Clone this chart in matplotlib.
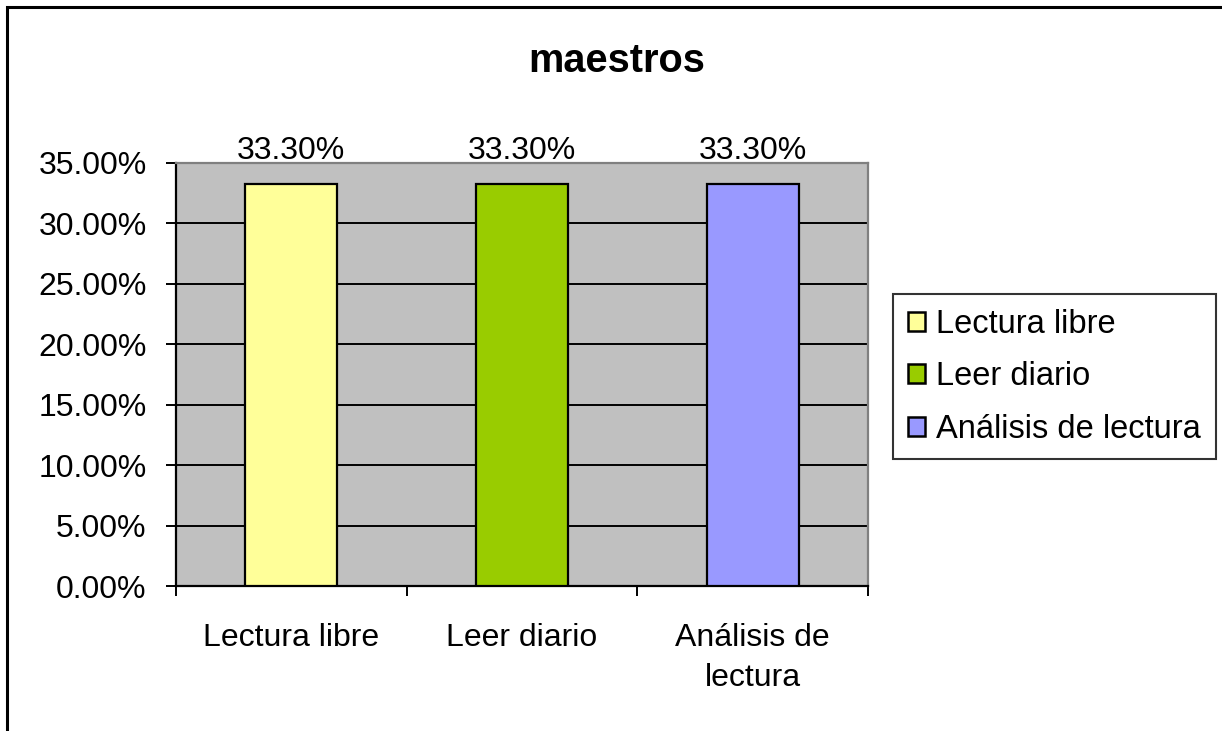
import matplotlib
matplotlib.use('Agg')
import matplotlib.pyplot as plt
from matplotlib.patches import Rectangle
from matplotlib.ticker import FuncFormatter

# data
categories = ['Lectura libre', 'Leer diario', 'Análisis de lectura']
tick_labels = ['Lectura libre', 'Leer diario', 'Análisis de\nlectura']
values = [0.333, 0.333, 0.333]
colors = ['#FFFF99', '#99CC00', '#9999FF']
y_ticks = [0.0, 0.05, 0.10, 0.15, 0.20, 0.25, 0.30, 0.35]

plt.rcParams['font.family'] = ['Liberation Sans', 'DejaVu Sans']
FS = 23.0
FS_LEG = 23.5

W, H = 1222, 731
fig = plt.figure(figsize=(W / 100, H / 100), dpi=100)
fig.patch.set_facecolor('white')

# plot area in pixel coords: x 176..868, y 163..586
ax = fig.add_axes([176 / W, (H - 586) / H, (868 - 176) / W, (586 - 163) / H])
ax.set_facecolor('#C0C0C0')
ax.set_axisbelow(True)

x = list(range(len(categories)))
for i, (cat, v, c) in enumerate(zip(categories, values, colors)):
    ax.bar(x[i], v, width=0.4, color=c, edgecolor='black', linewidth=1.6,
           label=cat, zorder=3)
    ax.annotate('%.2f%%' % (v * 100), (x[i], v), xytext=(0, 17.6),
                textcoords='offset points', ha='center', va='baseline',
                fontsize=FS, zorder=4, annotation_clip=False)

ax.set_xlim(-0.5, len(categories) - 0.5)
ax.set_ylim(0, 0.35)
ax.set_yticks(y_ticks)
ax.yaxis.set_major_formatter(FuncFormatter(lambda v, p: '%.2f%%' % (v * 100)))
ax.yaxis.grid(True, color='black', linewidth=1.4)
ax.tick_params(axis='y', direction='out', length=7.2, width=1.4, pad=14,
               labelsize=FS, colors='black')

# category labels at centres, ticks at the boundaries
ax.set_xticks(x)
ax.set_xticklabels(tick_labels, fontsize=FS, linespacing=1.45)
ax.tick_params(axis='x', which='major', length=0, pad=26.5)
ax.set_xticks([i - 0.5 for i in range(len(categories) + 1)], minor=True)
ax.tick_params(axis='x', which='minor', direction='out', length=7.2, width=1.4)

for side in ['top', 'right']:
    ax.spines[side].set_color('#808080')
    ax.spines[side].set_linewidth(1.6)
for side in ['left', 'bottom']:
    ax.spines[side].set_color('black')
    ax.spines[side].set_linewidth(1.6)

fig.text(617 / W, 1 - 61 / H, 'maestros', fontsize=28.6, fontweight='bold',
         ha='center', va='center')

leg = fig.legend(loc='upper left', bbox_to_anchor=(893 / W, 1 - 294 / H),
                 fontsize=FS_LEG, frameon=True, fancybox=False, shadow=False,
                 handlelength=0.52, handleheight=0.52, handletextpad=0.36,
                 borderpad=0.45, labelspacing=0.66, borderaxespad=0)
leg.get_frame().set_edgecolor('black')
leg.get_frame().set_linewidth(1.5)
leg.get_frame().set_facecolor('white')
for p in leg.get_patches():
    p.set_linewidth(1.8)

# outer chart border (right/bottom edges fall outside the image)
fig.patches.append(Rectangle((7.5 / W, -0.1), 1.2, 1 - 6.7 / H + 0.1,
                             transform=fig.transFigure, fill=False,
                             edgecolor='black', linewidth=2.2))

fig.savefig('out.png', dpi=100)
